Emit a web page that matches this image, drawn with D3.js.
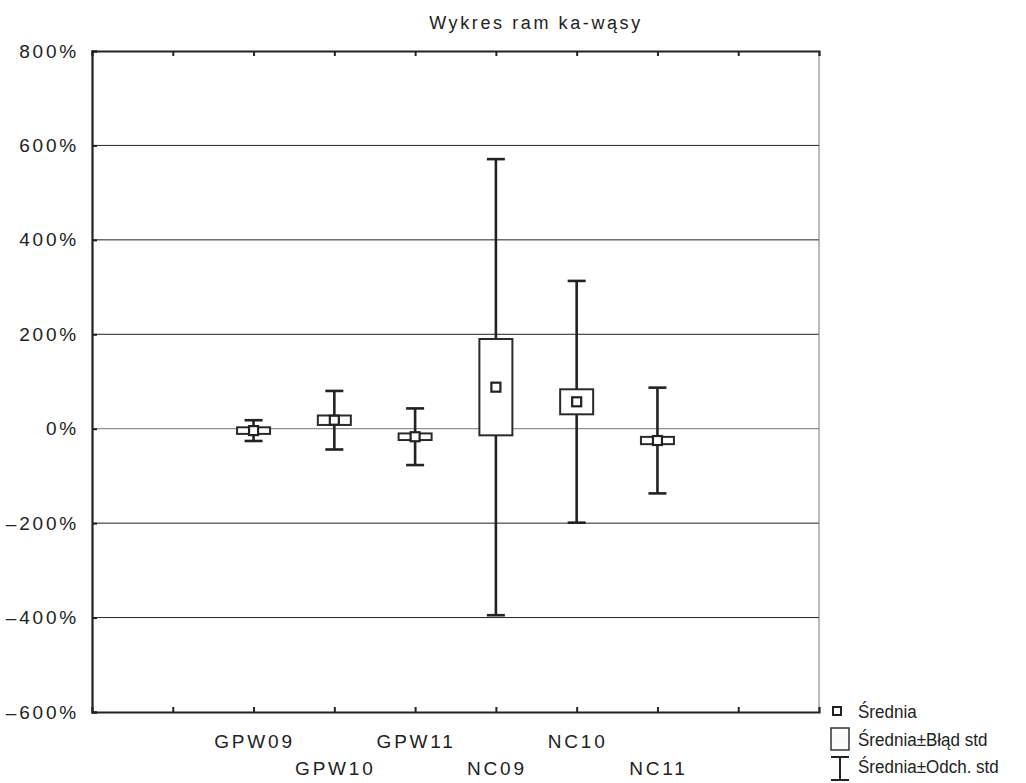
<!DOCTYPE html>
<html>
<head>
<meta charset="utf-8">
<script src="https://cdn.jsdelivr.net/npm/d3@7/dist/d3.min.js"></script>
<style>
  body { margin: 0; background: #fff; }
  svg { display: block; font-family: "Liberation Sans", Arial, sans-serif; }
</style>
</head>
<body>
<div id="chart"></div>
<script>
// Data (percent)
const categories = ['GPW09', 'GPW10', 'GPW11', 'NC09', 'NC10', 'NC11'];
const means = [-4, 18, -17, 88, 57, -25];
const stdErrors = [7, 10, 7, 102, 26.5, 7.7];
const stdDevs = [22, 62, 60, 483, 256, 112];
const yTicks = [-600, -400, -200, 0, 200, 400, 600, 800];
const xTickSlots = [1, 2, 3, 4, 5, 6, 7, 8];
const legendLabels = ['Średnia', 'Średnia±Błąd std', 'Średnia±Odch. std'];

const width = 1026, height = 783;
const margin = { top: 51, right: 207, bottom: 71, left: 92 };

const svg = d3.select('#chart').append('svg')
  .attr('width', width)
  .attr('height', height);

const x = d3.scaleLinear().domain([0, 9]).range([margin.left, width - margin.right]);
const y = d3.scaleLinear().domain([-600, 800]).range([height - margin.bottom, margin.top]);

// horizontal grid
svg.append('g')
  .selectAll('line')
  .data(yTicks.filter(d => d > -600 && d < 800))
  .enter()
  .append('line')
  .attr('x1', x(0)).attr('x2', x(9))
  .attr('y1', d => y(d)).attr('y2', d => y(d))
  .attr('stroke', d => d === 0 ? '#777' : '#222')
  .attr('stroke-width', 1);

// frame: right edge thin gray, others heavier
svg.append('line')
  .attr('x1', x(9)).attr('x2', x(9))
  .attr('y1', y(800)).attr('y2', y(-600))
  .attr('stroke', '#777').attr('stroke-width', 1);

// axes
const fmt = d => (d < 0 ? '\u2013' : '') + Math.abs(d) + '%';

const yAxis = svg.append('g')
  .attr('transform', `translate(${x(0)},0)`)
  .call(d3.axisLeft(y).tickValues(yTicks).tickSize(-5).tickPadding(13).tickFormat(fmt));

const xAxisTop = svg.append('g')
  .attr('transform', `translate(0,${y(800)})`)
  .call(d3.axisTop(x).tickValues(xTickSlots).tickSize(-5).tickFormat(''));

const xAxisBottom = svg.append('g')
  .attr('transform', `translate(0,${y(-600)})`)
  .call(d3.axisBottom(x).tickValues(xTickSlots).tickSize(-5).tickFormat(''));

[yAxis, xAxisTop, xAxisBottom].forEach(g => {
  g.select('.domain').attr('stroke', '#222').attr('stroke-width', 2.2);
  g.selectAll('.tick line').attr('stroke', '#222').attr('stroke-width', 2);
});

yAxis.selectAll('text')
  .attr('fill', '#222')
  .attr('font-size', 19)
  .style('letter-spacing', '2.8px');

// category labels, staggered in two rows
svg.append('g')
  .selectAll('text')
  .data(categories)
  .enter()
  .append('text')
  .attr('x', (d, i) => x(i + 2) + 1)
  .attr('y', (d, i) => i % 2 === 0 ? 748 : 775)
  .attr('text-anchor', 'middle')
  .attr('font-size', 19)
  .attr('fill', '#222')
  .style('letter-spacing', '2.8px')
  .text(d => d);

// title
svg.append('text')
  .attr('x', 536)
  .attr('y', 29)
  .attr('text-anchor', 'middle')
  .attr('font-size', 18)
  .attr('fill', '#222')
  .style('letter-spacing', '2.6px')
  .text('Wykres ram ka-wąsy');

// box-whisker groups
const boxW = 33, capW = 18, markerS = 9;
const groups = svg.append('g')
  .selectAll('g')
  .data(categories.map((c, i) => ({ c, i, m: means[i], se: stdErrors[i], sd: stdDevs[i] })))
  .enter()
  .append('g');

// whisker stem (split around the box so it does not cross it)
groups.append('line')
  .attr('x1', d => x(d.i + 2)).attr('x2', d => x(d.i + 2))
  .attr('y1', d => y(d.m + d.sd)).attr('y2', d => y(d.m + d.se))
  .attr('stroke', '#222').attr('stroke-width', 2.6);
groups.append('line')
  .attr('x1', d => x(d.i + 2)).attr('x2', d => x(d.i + 2))
  .attr('y1', d => y(d.m - d.se)).attr('y2', d => y(d.m - d.sd))
  .attr('stroke', '#222').attr('stroke-width', 2.6);
// caps
groups.selectAll('line.cap')
  .data(d => [d.m + d.sd, d.m - d.sd].map(v => ({ v, i: d.i })))
  .enter()
  .append('line')
  .attr('class', 'cap')
  .attr('x1', d => x(d.i + 2) - capW / 2).attr('x2', d => x(d.i + 2) + capW / 2)
  .attr('y1', d => y(d.v)).attr('y2', d => y(d.v))
  .attr('stroke', '#222').attr('stroke-width', 2.6);
// SE box
groups.append('rect')
  .attr('x', d => x(d.i + 2) - boxW / 2)
  .attr('y', d => y(d.m + d.se))
  .attr('width', boxW)
  .attr('height', d => y(d.m - d.se) - y(d.m + d.se))
  .attr('fill', '#fff')
  .attr('stroke', '#2a2a2a').attr('stroke-width', 2);
// mean marker
groups.append('rect')
  .attr('x', d => x(d.i + 2) - markerS / 2)
  .attr('y', d => y(d.m) - markerS / 2)
  .attr('width', markerS).attr('height', markerS)
  .attr('fill', '#fff')
  .attr('stroke', '#222').attr('stroke-width', 2.2);

// legend
const legend = svg.append('g');
legend.append('rect')
  .attr('x', 833).attr('y', 707).attr('width', 8).attr('height', 8)
  .attr('fill', '#fff').attr('stroke', '#222').attr('stroke-width', 2);
legend.append('rect')
  .attr('x', 831).attr('y', 728).attr('width', 18).attr('height', 22)
  .attr('fill', '#fafafa').attr('stroke', '#333').attr('stroke-width', 1.5);
legend.selectAll('line.cap')
  .data([757, 780])
  .enter()
  .append('line')
  .attr('class', 'cap')
  .attr('x1', 831).attr('x2', 849).attr('y1', d => d).attr('y2', d => d)
  .attr('stroke', '#222').attr('stroke-width', 2);
legend.append('line')
  .attr('x1', 840).attr('x2', 840).attr('y1', 757).attr('y2', 780)
  .attr('stroke', '#222').attr('stroke-width', 2);
legend.selectAll('text')
  .data(legendLabels)
  .enter()
  .append('text')
  .attr('transform', (d, i) => `translate(858,${718 + i * 27.5}) scale(0.92,1)`)
  .attr('font-size', 18.5)
  .attr('fill', '#222')
  .text(d => d);
</script>
</body>
</html>
